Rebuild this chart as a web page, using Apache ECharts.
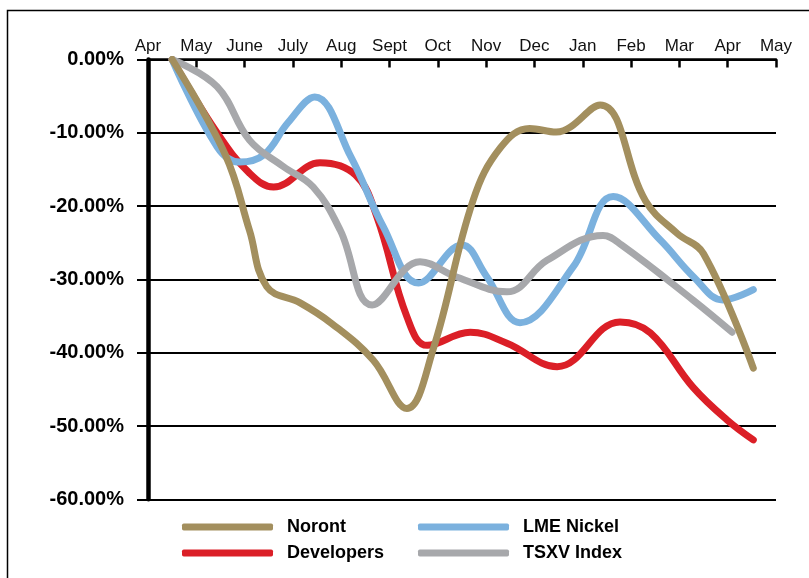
<!DOCTYPE html>
<html>
<head>
<meta charset="utf-8">
<script src="https://cdn.jsdelivr.net/npm/echarts@6/dist/echarts.min.js"></script>
<style>
  html, body { margin: 0; padding: 0; background: #fff; }
  #main { width: 809px; height: 578px; }
</style>
</head>
<body>
<div id="main"></div>
<script>
// month ticks along the top axis (Apr = 0 ... May = 13)
const months = ['Apr', 'May', 'June', 'July', 'Aug', 'Sept', 'Oct', 'Nov', 'Dec', 'Jan', 'Feb', 'Mar', 'Apr', 'May'];

// [month position, % change]
const noront = [
    [0.5, 0], [1.6, -13], [2.1, -23.3], [2.46, -31], [3.15, -33.2], [3.8, -36], [4.66, -41],
    [5.36, -47.6], [5.9, -39.6], [6.73, -19.2], [7.3, -12], [7.9, -9.4], [8.45, -9.9],
    [9.36, -6.2], [10.3, -19.3], [10.95, -23.7], [11.5, -26.5], [12.53, -42.1]
];
const developers = [
    [0.5, 0], [1.43, -10], [2.1, -15.5], [2.6, -17.4], [3.56, -14.1], [4.3, -15.8],
    [4.74, -21.5], [5.36, -35.1], [5.78, -39], [6.67, -37.2], [7.43, -38.7], [8.47, -41.9],
    [9.77, -35.8], [10.4, -37.3], [11.28, -44.7], [11.99, -49.2], [12.53, -51.9]
];
const lmeNickel = [
    [0.5, 0], [1.43, -11.9], [1.9, -14], [2.4, -13], [2.9, -8.6], [3.45, -5.1], [4.2, -13.3],
    [4.87, -22.8], [5.6, -30.5], [6.5, -25.3], [7.0, -29.5], [7.7, -35.9], [8.8, -28.3],
    [9.63, -18.7], [10.6, -24.6], [11.3, -29.7], [11.9, -32.8], [12.53, -31.4]
];
const tsxv = [
    [0.5, 0], [1.43, -3.7], [2.1, -11], [2.8, -14.6], [3.42, -17.4], [3.98, -23.3],
    [4.64, -33.5], [5.63, -27.6], [6.4, -29.7], [7.43, -31.7], [8.26, -27.4], [9.42, -24],
    [9.8, -25.3], [11.28, -32.8], [12.09, -37.2]
];

const yTicks = { min: -60, max: 0, step: 10 };

const colors = {
    'Noront': '#a38f5e',
    'Developers': '#db1f27',
    'LME Nickel': '#7bb1de',
    'TSXV Index': '#a7a8ab'
};

function lineSeries(name, data) {
    return {
        name: name,
        type: 'line',
        data: data,
        smooth: 0.4,
        showSymbol: false,
        symbol: 'none',
        color: colors[name],
        lineStyle: { width: 7, color: colors[name], cap: 'round', join: 'round' }
    };
}

const legendText = { fontFamily: 'Liberation Sans', fontWeight: 'bold', fontSize: 18, color: '#000', padding: [0, 0, 0, 9] };

let myChart = echarts.init(document.getElementById('main'), null, { renderer: 'canvas' });
myChart.setOption({
    animation: false,
    backgroundColor: '#fff',
    grid: { left: 148, right: 33, top: 59.5, bottom: 78.7, containLabel: false },
    graphic: [{
        type: 'rect',
        shape: { x: 7.5, y: 10.5, width: 900, height: 700 },
        style: { fill: 'none', stroke: '#000', lineWidth: 1.5 },
        z: -1
    }],
    legend: [{
        data: ['Noront', 'Developers'],
        orient: 'vertical',
        left: 177, top: 513,
        itemWidth: 91, itemHeight: 7, itemGap: 8,
        icon: 'roundRect',
        textStyle: legendText
    }, {
        data: ['LME Nickel', 'TSXV Index'],
        orient: 'vertical',
        left: 413, top: 513,
        itemWidth: 91, itemHeight: 7, itemGap: 8,
        icon: 'roundRect',
        textStyle: legendText
    }],
    xAxis: {
        type: 'value',
        position: 'top',
        min: 0, max: months.length - 1, interval: 1,
        axisLine: { lineStyle: { color: '#000', width: 2.5 } },
        axisTick: { inside: true, length: 8, lineStyle: { color: '#000', width: 2.5 } },
        splitLine: { show: false },
        axisLabel: {
            margin: 5,
            fontFamily: 'Liberation Sans', fontSize: 17, color: '#111',
            formatter: v => months[v]
        }
    },
    yAxis: {
        type: 'value',
        min: yTicks.min, max: yTicks.max, interval: yTicks.step,
        axisLine: { show: true, lineStyle: { color: '#000', width: 4.5 } },
        axisTick: { show: true, length: 11, lineStyle: { color: '#000', width: 2 } },
        splitLine: { lineStyle: { color: '#000', width: 2 } },
        axisLabel: {
            margin: 24,
            fontFamily: 'Liberation Sans', fontWeight: 'bold', fontSize: 20, color: '#000',
            formatter: v => v.toFixed(2) + '%'
        }
    },
    series: [
        lineSeries('Developers', developers),
        lineSeries('LME Nickel', lmeNickel),
        lineSeries('TSXV Index', tsxv),
        lineSeries('Noront', noront)
    ]
});
</script>
</body>
</html>
